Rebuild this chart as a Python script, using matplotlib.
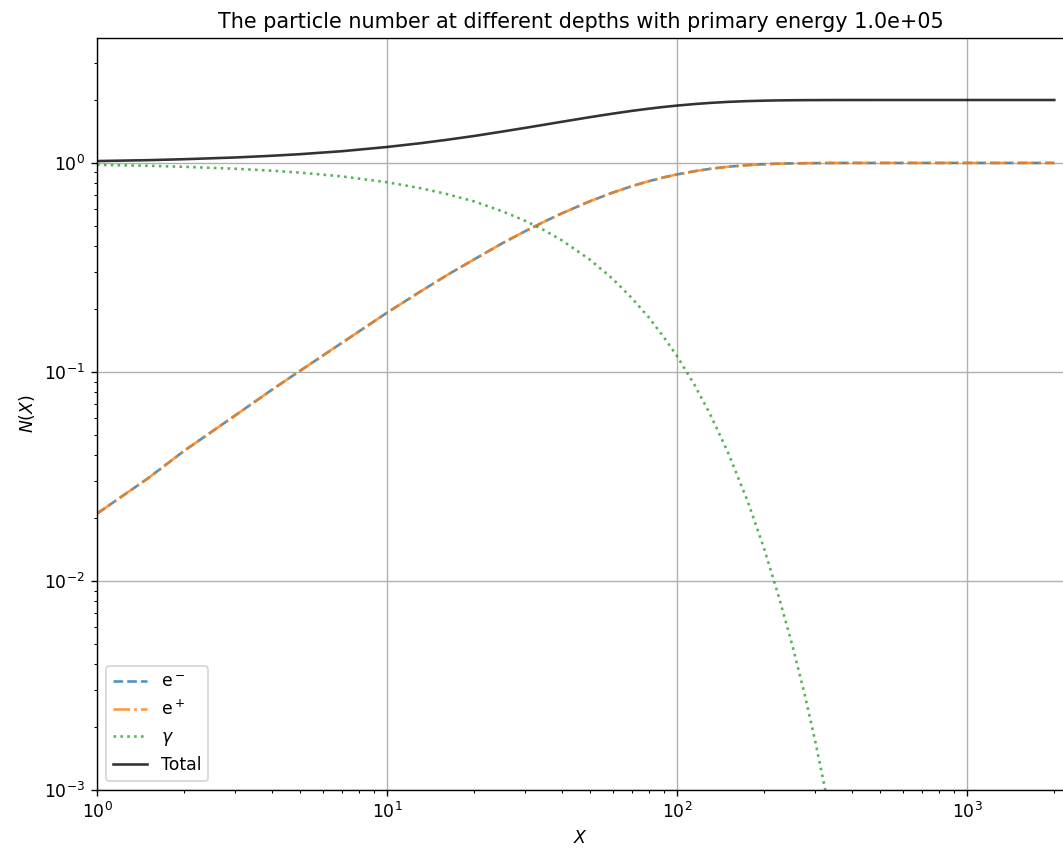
import numpy as np
import matplotlib
matplotlib.use("Agg")
import matplotlib.pyplot as plt

# depth values
depth = [1, 1.5, 2, 3, 4, 5, 7, 10, 13, 16,
         20, 25, 30, 35, 40, 50, 60, 70, 80, 90,
         100, 115, 130, 150, 175, 200, 225, 250, 275, 300,
         325, 350, 400, 500, 700, 1000, 1500, 2000]

# electrons (positrons lie right on top of them)
n_electron = [0.021, 0.031, 0.042, 0.062, 0.082, 0.101, 0.138, 0.192, 0.242, 0.289,
              0.346, 0.413, 0.472, 0.525, 0.573, 0.655, 0.721, 0.775, 0.818, 0.853,
              0.881, 0.913, 0.937, 0.959, 0.976, 0.986, 0.992, 0.995, 0.997, 0.998,
              0.999, 0.9994, 0.9998, 1.0, 1.0, 1.0, 1.0, 1.0]
n_positron = [0.021, 0.031, 0.042, 0.062, 0.082, 0.101, 0.138, 0.192, 0.242, 0.289,
              0.346, 0.413, 0.472, 0.525, 0.573, 0.655, 0.721, 0.775, 0.818, 0.853,
              0.881, 0.913, 0.937, 0.959, 0.976, 0.986, 0.992, 0.995, 0.997, 0.998,
              0.999, 0.9994, 0.9998, 1.0, 1.0, 1.0, 1.0, 1.0]
n_gamma = [0.979, 0.969, 0.958, 0.938, 0.918, 0.899, 0.862, 0.808, 0.758, 0.711,
           0.654, 0.587, 0.528, 0.475, 0.427, 0.345, 0.279, 0.225, 0.182, 0.147,
           0.119, 0.0866, 0.0629, 0.0411, 0.0242, 0.0142, 0.0083, 0.0049, 0.0029, 0.0017,
           0.00099, 0.00058, 0.0002, 2.4e-5, 3e-7, 6e-10, 1e-14, 3e-19]
n_total = [1.021, 1.031, 1.042, 1.062, 1.082, 1.101, 1.138, 1.192, 1.242, 1.289,
           1.346, 1.413, 1.472, 1.525, 1.573, 1.655, 1.721, 1.775, 1.818, 1.853,
           1.881, 1.913, 1.937, 1.959, 1.976, 1.986, 1.992, 1.995, 1.997, 1.998,
           1.999, 1.9994, 1.9998, 2.0, 2.0, 2.0, 2.0, 2.0]

dpi = 124.5
fig = plt.figure(figsize=(1063/dpi, 856/dpi), dpi=dpi)
ax = fig.add_axes([97/1063, 1-790/856, 967/1063, 752/856])

ax.loglog(depth, n_electron, '--', alpha=0.8, label=r'e$^-$')
ax.loglog(depth, n_positron, '-.', alpha=0.8, label=r'e$^+$')
ax.loglog(depth, n_gamma, ':', alpha=0.8, label=r'$\gamma$')
ax.loglog(depth, n_total, 'k-', alpha=0.8, label='Total')

ax.set_xlim(1, 2160)
ax.set_ylim(1e-3, 3.96)
ax.grid(True)
ax.legend(loc='lower left')
ax.set_xlabel('$X$')
ax.set_ylabel('$N(X)$')
ax.set_title('The particle number at different depths with primary energy 1.0e+05')

fig.savefig('out.png', dpi=dpi)
